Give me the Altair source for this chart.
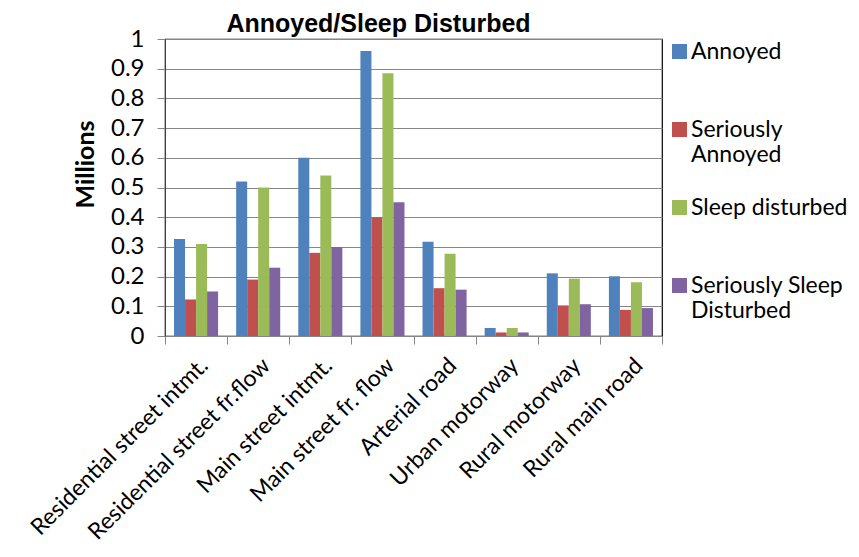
import altair as alt
import pandas as pd

categories = ["Residential street intmt.", "Residential street fr.flow", "Main street intmt.",
              "Main street fr. flow", "Arterial road", "Urban motorway", "Rural motorway", "Rural main road"]
series = ["Annoyed", "Seriously Annoyed", "Sleep disturbed", "Seriously Sleep Disturbed"]
annoyed = [0.327, 0.52, 0.60, 0.96, 0.317, 0.027, 0.211, 0.201]
seriously_annoyed = [0.123, 0.19, 0.28, 0.40, 0.161, 0.012, 0.103, 0.088]
sleep_disturbed = [0.31, 0.50, 0.54, 0.885, 0.277, 0.027, 0.193, 0.181]
seriously_sleep = [0.15, 0.23, 0.30, 0.45, 0.156, 0.012, 0.107, 0.094]
colors = ["#4F81BD", "#C0504D", "#9BBB59", "#8064A2"]

rows = []
for vals, s in zip([annoyed, seriously_annoyed, sleep_disturbed, seriously_sleep], series):
    for c, v in zip(categories, vals):
        rows.append({"category": c, "series": s, "value": v})
df = pd.DataFrame(rows)

font = "Lato"

legend_expr = ("datum.label == 'Seriously Annoyed' ? ['Seriously', 'Annoyed'] : "
               "datum.label == 'Seriously Sleep Disturbed' ? ['Seriously Sleep', 'Disturbed'] : "
               "[datum.label, ' ']")

chart = alt.Chart(df).mark_bar().encode(
    x=alt.X("category:N", sort=categories, title=None,
            scale=alt.Scale(paddingInner=0, paddingOuter=0),
            axis=alt.Axis(labelAngle=-45, labelFontSize=23, labelFont=font, labelColor="black",
                          labelLimit=0, tickBand="extent", tickSize=8, tickColor="#868686",
                          domainColor="#868686", labelPadding=10)),
    xOffset=alt.XOffset("series:N", sort=series, scale=alt.Scale(paddingOuter=0.82, paddingInner=0)),
    y=alt.Y("value:Q", title="Millions",
            scale=alt.Scale(domain=[0, 1]),
            axis=alt.Axis(values=[i / 10 for i in range(11)], format="~g", labelFontSize=24,
                          labelFont=font, labelColor="black", tickSize=8, tickColor="#868686",
                          domainColor="#404040", gridColor="#868686", labelPadding=13,
                          titleFontSize=25, titleFont=font, titleFontWeight="bold",
                          titleColor="black", titleX=-67, titleY=125)),
    color=alt.Color("series:N", sort=series, scale=alt.Scale(domain=series, range=colors),
                    legend=alt.Legend(title=None, orient="none", legendX=503, legendY=1,
                                      symbolType="square", symbolSize=225, symbolStrokeWidth=0,
                                      labelFontSize=23, labelFont=font, labelColor="black",
                                      labelOffset=0, rowPadding=29, labelLimit=0,
                                      labelExpr=legend_expr)),
).properties(
    width=497, height=297,
    title=alt.TitleParams("Annoyed/Sleep Disturbed", font="Liberation Sans", fontSize=25,
                          fontWeight="bold", color="black", dx=-35, offset=-10),
    autosize=alt.AutoSizeParams(type="none"),
    padding={"left": 157, "top": 31, "right": 189, "bottom": 213},
).configure_view(stroke="black", strokeWidth=1.2)

chart.save("out.html", embed_options={"renderer": "svg", "actions": False})
